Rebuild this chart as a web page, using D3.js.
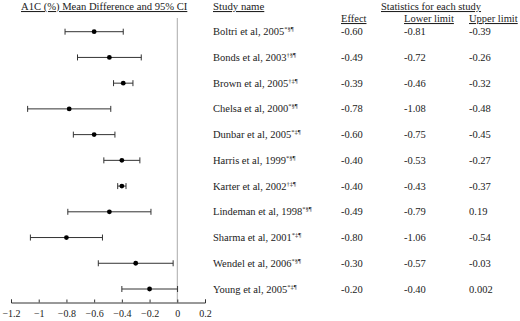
<!DOCTYPE html>
<html>
<head>
<meta charset="utf-8">
<script src="https://cdn.jsdelivr.net/npm/d3@7"></script>
<style>
  body { margin: 0; background: #fff; }
  text { font-family: "Liberation Serif", "DejaVu Serif", serif; fill: #222; }
</style>
</head>
<body>
<div id="chart"></div>
<script>
const studies = ["Boltri et al, 2005", "Bonds et al, 2003", "Brown et al, 2005", "Chelsa et al, 2000",
  "Dunbar et al, 2005", "Harris et al, 1999", "Karter et al, 2002", "Lindeman et al, 1998",
  "Sharma et al, 2001", "Wendel et al, 2006", "Young et al, 2005"];
const marks = ["*§¶", "†§¶", "†‡¶", "*§¶", "*‡¶", "*§¶", "†‡¶", "*§¶", "*‡¶", "*§¶", "*‡¶"];
const effect = [-0.60, -0.49, -0.39, -0.78, -0.60, -0.40, -0.40, -0.49, -0.80, -0.30, -0.20];
const lower = [-0.81, -0.72, -0.46, -1.08, -0.75, -0.53, -0.43, -0.79, -1.06, -0.57, -0.40];
// upper limit as plotted (Lindeman bar ends at -0.19 although the table prints 0.19)
const upper = [-0.39, -0.26, -0.32, -0.48, -0.45, -0.27, -0.37, -0.19, -0.54, -0.03, 0.002];
const upperText = ["-0.39", "-0.26", "-0.32", "-0.48", "-0.45", "-0.27", "-0.37", "0.19", "-0.54", "-0.03", "0.002"];
const xTicks = [-1.2, -1, -0.8, -0.6, -0.4, -0.2, 0, 0.2];

const width = 520, height = 321;
const svg = d3.select("#chart").append("svg")
  .attr("width", width)
  .attr("height", height);

const x = d3.scaleLinear().domain([-1.2, 0.2]).range([11, 205]);
const y = d3.scalePoint().domain(studies).range([31.7, 289]);
const axisY = 302.5;

// zero line
svg.append("line")
  .attr("x1", x(0)).attr("x2", x(0))
  .attr("y1", 18).attr("y2", axisY)
  .attr("stroke", "#aaa").attr("stroke-width", 1);

const rows = studies.map((s, i) => ({name: s, mark: marks[i], effect: effect[i], lower: lower[i], upper: upper[i], upText: upperText[i]}));

const g = svg.selectAll(".row").data(rows).enter().append("g").attr("class", "row");
g.append("line")
  .attr("x1", d => x(d.lower)).attr("x2", d => x(d.upper))
  .attr("y1", d => y(d.name)).attr("y2", d => y(d.name))
  .attr("stroke", "#333");
g.append("line")
  .attr("x1", d => x(d.lower)).attr("x2", d => x(d.lower))
  .attr("y1", d => y(d.name) - 3).attr("y2", d => y(d.name) + 3)
  .attr("stroke", "#333");
g.append("line")
  .attr("x1", d => x(d.upper)).attr("x2", d => x(d.upper))
  .attr("y1", d => y(d.name) - 3).attr("y2", d => y(d.name) + 3)
  .attr("stroke", "#333");
g.append("circle")
  .attr("cx", d => x(d.effect)).attr("cy", d => y(d.name))
  .attr("r", 2.4).attr("fill", "#000");

// study name with superscript marks
const nameText = g.append("text")
  .attr("x", 213).attr("y", d => y(d.name) + 3.5)
  .attr("font-size", 10.5);
nameText.append("tspan").text(d => d.name);
nameText.append("tspan").attr("font-size", 6.5).attr("dy", -4).text(d => d.mark);

g.append("text").attr("x", 341).attr("y", d => y(d.name) + 3.5).attr("font-size", 10.5)
  .text(d => d.effect.toFixed(2));
g.append("text").attr("x", 404).attr("y", d => y(d.name) + 3.5).attr("font-size", 10.5)
  .text(d => d.lower.toFixed(2));
g.append("text").attr("x", 469).attr("y", d => y(d.name) + 3.5).attr("font-size", 10.5)
  .text(d => d.upText);

// axis
const axis = svg.append("g")
  .attr("transform", `translate(0, ${axisY})`)
  .call(d3.axisBottom(x).tickValues(xTicks).tickSize(-3).tickPadding(7).tickFormat(d => d3.format("")(d)));
axis.select(".domain").attr("stroke", "#333");
axis.selectAll(".tick line").attr("stroke", "#333");
axis.selectAll(".tick text")
  .style("font-family", "Liberation Serif, serif")
  .attr("font-size", 10).attr("fill", "#222");

// headers
svg.append("text").attr("x", 21).attr("y", 10).attr("font-size", 10.6)
  .attr("text-decoration", "underline")
  .text("A1C (%) Mean Difference and 95% CI");
svg.append("text").attr("x", 213).attr("y", 10).attr("font-size", 10.8)
  .attr("text-decoration", "underline")
  .text("Study name");
svg.append("text").attr("x", 381).attr("y", 10).attr("font-size", 10.5)
  .attr("text-decoration", "underline")
  .text("Statistics for each study");
svg.append("text").attr("x", 341).attr("y", 22).attr("font-size", 10.5)
  .attr("text-decoration", "underline").text("Effect");
svg.append("text").attr("x", 404).attr("y", 22).attr("font-size", 10.5)
  .attr("text-decoration", "underline").text("Lower limit");
svg.append("text").attr("x", 469).attr("y", 22).attr("font-size", 10.5)
  .attr("text-decoration", "underline").text("Upper limit");
</script>
</body>
</html>
